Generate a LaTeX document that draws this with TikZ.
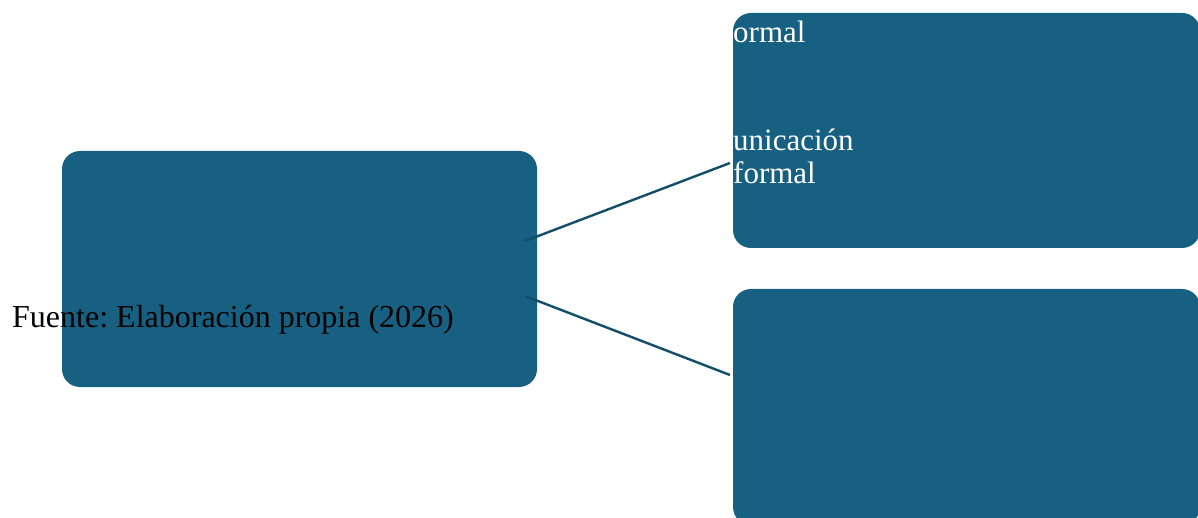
\documentclass[tikz,border=0pt]{standalone}
\usepackage{fontspec}
\setmainfont{Liberation Serif}
\definecolor{boxblue}{HTML}{186082}
\definecolor{linkblue}{HTML}{134E69}
\begin{document}
\frenchspacing
\begin{tikzpicture}[x=1pt,y=-1pt,
  card/.style={fill=boxblue, draw=none, rounded corners=18pt},
  link/.style={draw=linkblue, line width=2.4pt},
  whitetxt/.style={text=white, font=\fontsize{31}{33}\selectfont, anchor=base west, inner sep=0pt},
  blacktxt/.style={text=black, font=\fontsize{32}{34}\selectfont, anchor=base west, inner sep=0pt}]
\useasboundingbox (0,0) rectangle (1198,518);
\clip (0,0) rectangle (1198,518);

% boxes
\path[card] (62,151) rectangle (537,387);
\node[inner sep=0pt, minimum width=475pt, minimum height=236pt] (src) at (299.5,269) {};
\path[card] (733,13) rectangle (1200,248);
\node[inner sep=0pt, minimum width=467pt, minimum height=235pt] (top) at (966.5,130.5) {};
\path[card] (733,289) rectangle (1200,525);
\node[inner sep=0pt, minimum width=467pt, minimum height=236pt] (bot) at (966.5,407) {};

% connector end points
\coordinate (s1) at (525,241);
\coordinate (s2) at (525,296);
\coordinate (t1) at (730,163);
\coordinate (t2) at (730,375);
\draw[link] (s1) -- (t1);
\draw[link] (s2) -- (t2);

% labels
\node[whitetxt] (l1) at (733,43) {ormal};
\node[whitetxt] (l2) at (733,151) {unicación};
\node[whitetxt] (l3) at (733,184) {formal};
\node[blacktxt] (src-note) at (12,327) {Fuente: Elaboración propia (2026)};
\end{tikzpicture}
\end{document}
